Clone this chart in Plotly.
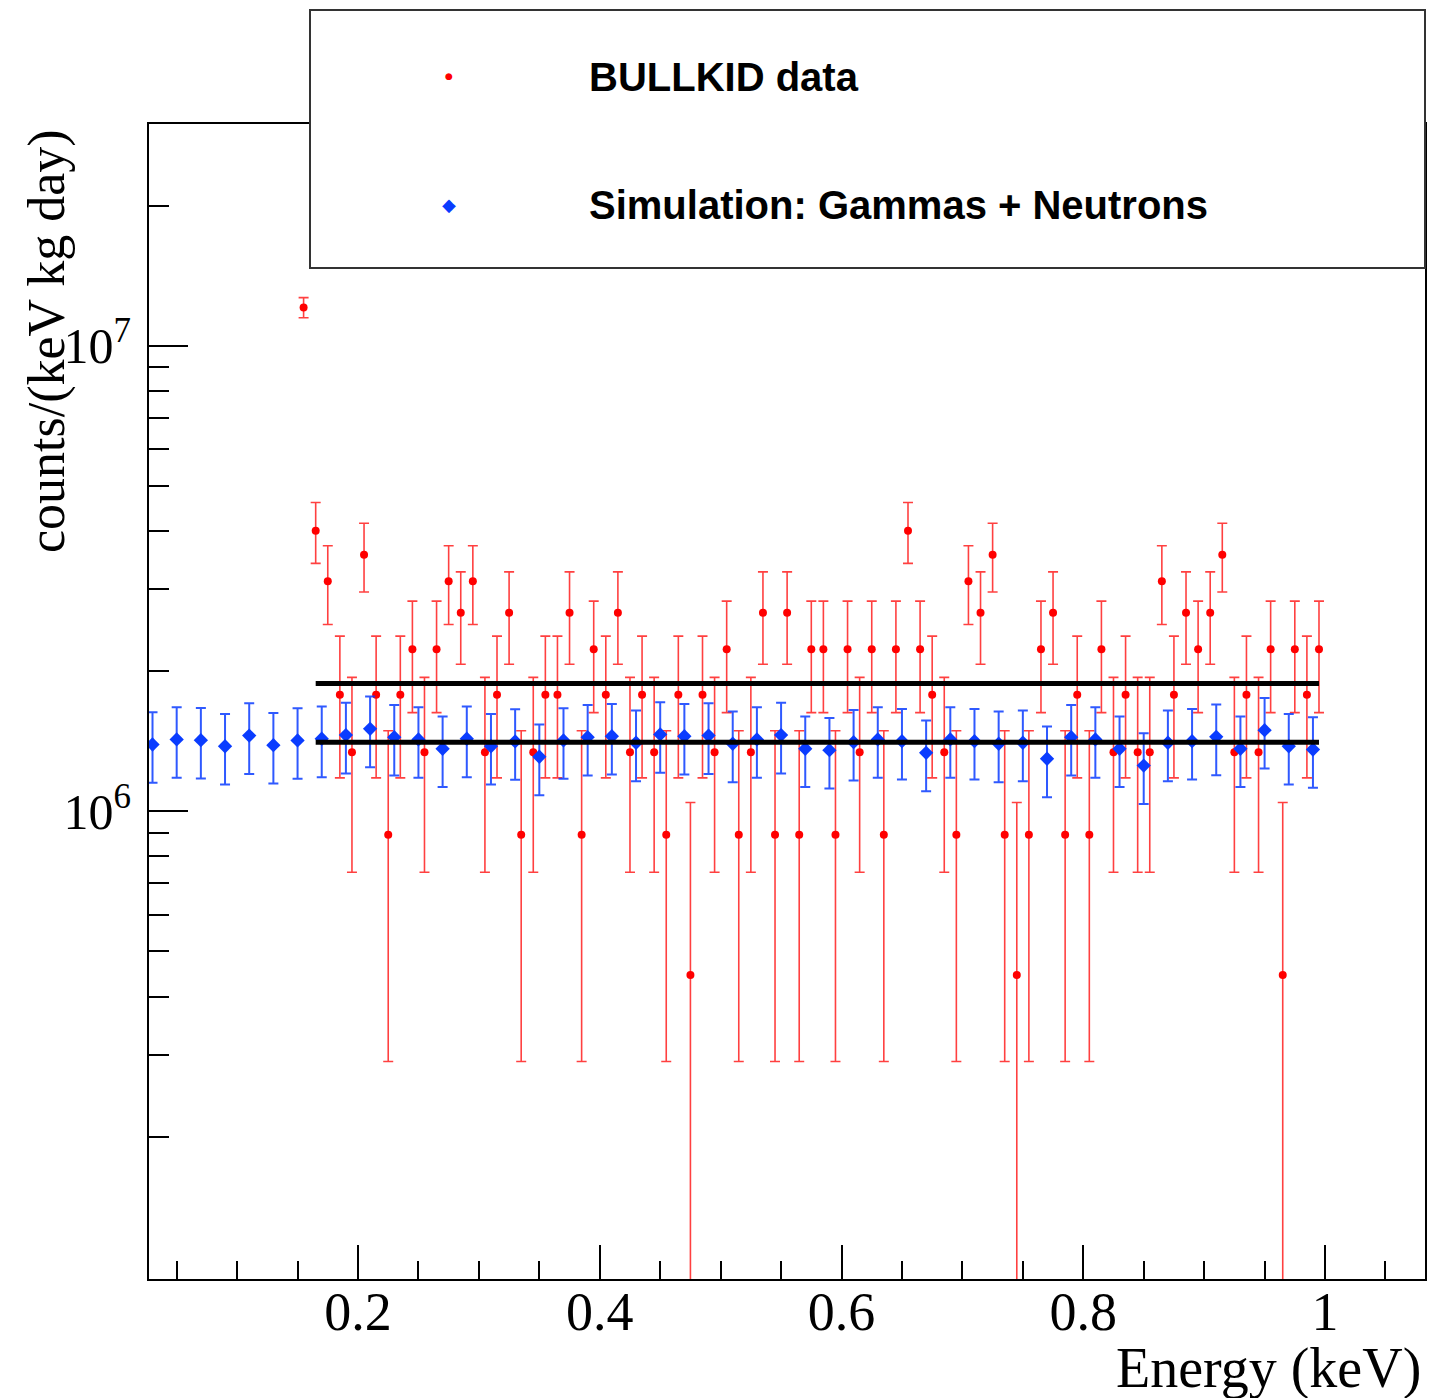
import plotly.graph_objects as go

# ---------------- data ----------------
# BULLKID data (red): bin centres (keV) and rates (counts/(keV kg day))
data_energy = [0.155, 0.165, 0.175, 0.185, 0.195, 0.205, 0.215, 0.225, 0.235, 0.245,
               0.255, 0.265, 0.275, 0.285, 0.295, 0.305, 0.315, 0.325, 0.335, 0.345,
               0.355, 0.365, 0.375, 0.385, 0.395, 0.405, 0.415, 0.425, 0.435, 0.445,
               0.455, 0.465, 0.475, 0.485, 0.495, 0.505, 0.515, 0.525, 0.535, 0.545,
               0.555, 0.565, 0.575, 0.585, 0.595, 0.605, 0.615, 0.625, 0.635, 0.645,
               0.655, 0.665, 0.675, 0.685, 0.695, 0.705, 0.715, 0.725, 0.735, 0.745,
               0.755, 0.765, 0.775, 0.785, 0.795, 0.805, 0.815, 0.825, 0.835, 0.845,
               0.855, 0.865, 0.875, 0.885, 0.895, 0.905, 0.915, 0.925, 0.935, 0.945,
               0.955, 0.965, 0.975, 0.985, 0.995]
data_rate = [12.1e6, 4.01e6, 3.12e6, 1.78e6, 1.34e6, 3.56e6, 1.78e6, 0.89e6, 1.78e6, 2.23e6,
             1.34e6, 2.23e6, 3.12e6, 2.67e6, 3.12e6, 1.34e6, 1.78e6, 2.67e6, 0.89e6, 1.34e6,
             1.78e6, 1.78e6, 2.67e6, 0.89e6, 2.23e6, 1.78e6, 2.67e6, 1.34e6, 1.78e6, 1.34e6,
             0.89e6, 1.78e6, 0.445e6, 1.78e6, 1.34e6, 2.23e6, 0.89e6, 1.34e6, 2.67e6, 0.89e6,
             2.67e6, 0.89e6, 2.23e6, 2.23e6, 0.89e6, 2.23e6, 1.34e6, 2.23e6, 0.89e6, 2.23e6,
             4.01e6, 2.23e6, 1.78e6, 1.34e6, 0.89e6, 3.12e6, 2.67e6, 3.56e6, 0.89e6, 0.445e6,
             0.89e6, 2.23e6, 2.67e6, 0.89e6, 1.78e6, 0.89e6, 2.23e6, 1.34e6, 1.78e6, 1.34e6,
             1.34e6, 3.12e6, 1.78e6, 2.67e6, 2.23e6, 2.67e6, 3.56e6, 1.34e6, 1.78e6, 1.34e6,
             2.23e6, 0.445e6, 2.23e6, 1.78e6, 2.23e6]
data_err = 0.6e6  # (same for every bin)

# Simulation: Gammas + Neutrons (blue)
sim_energy = [0.03, 0.05, 0.07, 0.09, 0.11, 0.13, 0.15, 0.17, 0.19, 0.21,
              0.23, 0.25, 0.27, 0.29, 0.31, 0.33, 0.35, 0.37, 0.39, 0.41,
              0.43, 0.45, 0.47, 0.49, 0.51, 0.53, 0.55, 0.57, 0.59, 0.61,
              0.63, 0.65, 0.67, 0.69, 0.71, 0.73, 0.75, 0.77, 0.79, 0.81,
              0.83, 0.85, 0.87, 0.89, 0.91, 0.93, 0.95, 0.97, 0.99]
sim_rate = [1.392e6, 1.427e6, 1.422e6, 1.380e6, 1.455e6, 1.387e6, 1.420e6, 1.432e6, 1.458e6, 1.504e6,
            1.443e6, 1.427e6, 1.363e6, 1.432e6, 1.380e6, 1.413e6, 1.310e6, 1.420e6, 1.443e6, 1.450e6,
            1.404e6, 1.463e6, 1.450e6, 1.455e6, 1.397e6, 1.427e6, 1.458e6, 1.363e6, 1.353e6, 1.408e6,
            1.427e6, 1.415e6, 1.336e6, 1.427e6, 1.415e6, 1.397e6, 1.404e6, 1.297e6, 1.443e6, 1.427e6,
            1.363e6, 1.254e6, 1.404e6, 1.415e6, 1.446e6, 1.363e6, 1.494e6, 1.380e6, 1.358e6]
sim_err_percent = 17.3

# constant levels (black lines)
fit_range = [0.165, 0.995]
fit_data_level = 1.883e6
fit_sim_level = 1.408e6

x_tickvals = [0.2, 0.4, 0.6, 0.8, 1.0]
x_ticktext = ["0.2", "0.4", "0.6", "0.8", "1"]
y_tickvals = [1e6, 1e7]
y_ticktext = ["10<sup>6</sup>", "10<sup>7</sup>"]
y_minor = [2e5, 3e5, 4e5, 5e5, 6e5, 7e5, 8e5, 9e5,
           2e6, 3e6, 4e6, 5e6, 6e6, 7e6, 8e6, 9e6, 2e7]

legend_labels = ["BULLKID data", "Simulation: Gammas + Neutrons"]

# ---------------- figure ----------------
W, H = 1447, 1398
L, R, T, B = 149, 22, 124, 119
pw, ph = W - L - R, H - T - B

def px(xp):
    return (xp - L) / pw

def py(yp):
    return (H - B - yp) / ph

fig = go.Figure()

fig.add_trace(go.Scatter(
    x=data_energy, y=data_rate, mode="markers",
    marker=dict(symbol="circle", size=8, color="#ff0000"),
    error_y=dict(type="constant", value=data_err, color="rgba(255,0,0,0.75)",
                 thickness=1.6, width=5),
    showlegend=False))

fig.add_trace(go.Scatter(
    x=sim_energy, y=sim_rate, mode="markers",
    marker=dict(symbol="diamond", size=11, color="#0a3cff"),
    error_y=dict(type="percent", value=sim_err_percent, color="rgba(10,60,255,0.85)",
                 thickness=2, width=5),
    showlegend=False))

for lvl in (fit_data_level, fit_sim_level):
    fig.add_trace(go.Scatter(
        x=fit_range, y=[lvl, lvl], mode="lines",
        line=dict(color="black", width=5), showlegend=False))

serif = "Liberation Serif"
sans = "Liberation Sans"

fig.update_xaxes(
    range=[0.0271, 1.0827], showgrid=False, zeroline=False,
    showline=True, linecolor="black", linewidth=2, mirror=True,
    ticks="inside", ticklen=34, tickwidth=1.5, tickcolor="black",
    tickmode="array", tickvals=x_tickvals, ticktext=x_ticktext,
    tickfont=dict(family=serif, size=54, color="black"),
    ticklabelstandoff=-16,
    minor=dict(dtick=0.05, tick0=0, ticks="inside", ticklen=18,
               tickwidth=1.5, tickcolor="black", showgrid=False))

fig.update_yaxes(
    type="log", range=[4.995, 7.477], showgrid=False, zeroline=False,
    showline=True, linecolor="black", linewidth=2, mirror=True,
    ticks="inside", ticklen=39, tickwidth=1.5, tickcolor="black",
    tickmode="array", tickvals=y_tickvals, ticktext=y_ticktext,
    tickfont=dict(family=serif, size=50, color="black"),
    ticklabelstandoff=6,
    minor=dict(tickmode="array", tickvals=y_minor, ticks="inside", ticklen=20,
               tickwidth=1.5, tickcolor="black", showgrid=False))

annotations = [
    dict(text="counts/(keV kg day)", textangle=-90, xref="paper", yref="paper",
         x=px(47), y=py(341), xanchor="center", yanchor="middle", showarrow=False,
         font=dict(family=serif, size=52, color="black")),
    dict(text="Energy (keV)", xref="paper", yref="paper",
         x=px(1423), y=py(1368), xanchor="right", yanchor="middle", showarrow=False,
         font=dict(family=serif, size=56, color="black")),
    dict(text="●", xref="paper", yref="paper", x=px(449), y=py(76),
         xanchor="center", yanchor="middle", showarrow=False,
         font=dict(family="DejaVu Sans", size=9, color="#ff0000")),
    dict(text="◆", xref="paper", yref="paper", x=px(449), y=py(204),
         xanchor="center", yanchor="middle", showarrow=False,
         font=dict(family="DejaVu Sans", size=18, color="#0a3cff")),
    dict(text="<b>" + legend_labels[0] + "</b>", xref="paper", yref="paper",
         x=px(587), y=py(77), xanchor="left", yanchor="middle", showarrow=False,
         font=dict(family=sans, size=40, color="black")),
    dict(text="<b>" + legend_labels[1] + "</b>", xref="paper", yref="paper",
         x=px(587), y=py(205), xanchor="left", yanchor="middle", showarrow=False,
         font=dict(family=sans, size=40, color="black")),
]

shapes = [
    dict(type="rect", xref="paper", yref="paper",
         x0=px(310), x1=px(1425), y0=py(268), y1=py(10),
         line=dict(color="#333333", width=2), fillcolor="white", layer="above"),
]

fig.update_layout(
    width=W, height=H, autosize=False,
    margin=dict(l=L, r=R, t=T, b=B, pad=0),
    paper_bgcolor="white", plot_bgcolor="white",
    showlegend=False,
    annotations=annotations, shapes=shapes)

fig.write_html("out.html")
